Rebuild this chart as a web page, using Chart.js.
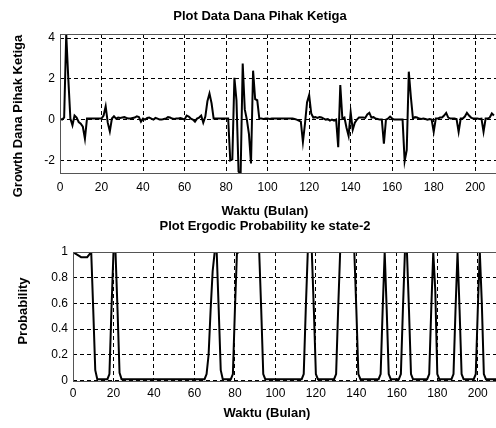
<!DOCTYPE html>
<html>
<head>
<meta charset="utf-8">
<script src="https://cdn.jsdelivr.net/npm/chart.js@4.4.0/dist/chart.umd.min.js"></script>
<style>
html,body{margin:0;padding:0;background:#fff;width:496px;height:428px;overflow:hidden;}
#wrap{position:relative;width:496px;height:428px;background:#fff;}
canvas{position:absolute;left:0;}
.t{position:absolute;font:bold 13px "Liberation Sans",Arial,sans-serif;line-height:15px;color:#000;white-space:nowrap;transform:translate(-50%,-50%);}
.r{transform:translate(-50%,-50%) rotate(-90deg);}
</style>
</head>
<body>
<div id="wrap">
<canvas id="c1" width="496" height="205" style="top:0px"></canvas>
<canvas id="c2" width="496" height="223" style="top:205px"></canvas>
<div class="t" style="left:260px;top:15px">Plot Data Dana Pihak Ketiga</div>
<div class="t r" style="left:17px;top:116px">Growth Dana Pihak Ketiga</div>
<div class="t" style="left:265px;top:210px">Waktu (Bulan)</div>
<div class="t" style="left:265px;top:225px">Plot Ergodic Probability ke state-2</div>
<div class="t r" style="left:21.5px;top:311px">Probability</div>
<div class="t" style="left:267px;top:412px">Waktu (Bulan)</div>
</div>
<script>
// ---- data ----
const monthTicks = [0, 20, 40, 60, 80, 100, 120, 140, 160, 180, 200];
const growthTicks = [-2, 0, 2, 4];
const probTicks = [0, 0.2, 0.4, 0.6, 0.8, 1];

// Growth Dana Pihak Ketiga, month 0..209
const growth = [
  0.05, 0.0, 0.1, 4.2, 2.0, 0.05, -0.28, 0.2, 0.1, -0.12,
  -0.2, -0.35, -0.94, 0.05, 0.05, 0.05, 0.05, 0.05, 0.05, 0.05,
  0.05, 0.2, 0.65, -0.15, -0.58, 0.05, 0.16, 0.05, 0.1, 0.08,
  0.1, 0.12, 0.08, 0.05, 0.05, 0.08, 0.1, 0.16, 0.12, -0.1,
  0.05, 0.0, 0.08, 0.1, 0.05, 0.0, 0.08, 0.05, 0.0, 0.0,
  0.03, 0.05, 0.12, 0.1, 0.05, 0.03, 0.05, 0.05, 0.08, 0.05,
  0.0, 0.2, 0.15, 0.05, 0.0, -0.1, 0.05, 0.1, 0.2, -0.15,
  0.15, 0.9, 1.28, 0.8, 0.05, 0.05, 0.05, 0.05, 0.05, 0.05,
  0.05, 0.05, -2.0, -1.95, 2.05, 0.95, -2.55, -2.67, 2.75, 0.5,
  0.0, -0.7, -2.15, 2.4, 1.0, 0.95, 0.05, 0.05, 0.03, 0.05,
  0.05, 0.03, 0.05, 0.05, 0.05, 0.05, 0.05, 0.05, 0.05, 0.05,
  0.05, 0.05, 0.05, 0.03, 0.0, -0.05, -0.1, -1.1, -0.2, 0.85,
  1.2, 0.3, 0.1, 0.12, 0.08, 0.12, 0.1, 0.05, 0.0, 0.02,
  -0.05, 0.0, -0.05, 0.0, -1.35, 1.69, 0.05, 0.1, -0.4, -0.8,
  0.37, -0.5, -0.15, 0.0, 0.1, 0.1, 0.1, 0.08, 0.25, 0.33,
  0.1, 0.12, 0.05, 0.03, 0.0, 0.0, -1.18, 0.0, 0.05, 0.15,
  0.05, 0.0, 0.0, 0.0, 0.0, 0.0, -2.04, -1.5, 2.35, 1.1,
  0.05, 0.12, 0.1, 0.05, 0.03, 0.05, 0.03, 0.0, 0.03, 0.0,
  -0.6, 0.05, 0.05, 0.1, 0.1, 0.2, 0.33, 0.1, 0.05, 0.05,
  0.05, 0.03, -0.6, 0.05, 0.05, 0.15, 0.33, 0.2, 0.1, 0.05,
  0.05, 0.05, 0.03, 0.05, -0.6, 0.05, 0.05, 0.1, 0.3, 0.2
];

// Ergodic probability of state 2, month 0..209
const prob = [
  1.0, 0.99, 0.98, 0.97, 0.96, 0.96, 0.96, 0.96, 0.98, 1.0,
  0.55, 0.08, 0.01, 0.01, 0.01, 0.01, 0.01, 0.01, 0.05, 0.55,
  1.0, 1.0, 0.55, 0.06, 0.01, 0.01, 0.01, 0.01, 0.01, 0.01,
  0.01, 0.01, 0.01, 0.01, 0.01, 0.01, 0.01, 0.01, 0.01, 0.01,
  0.01, 0.01, 0.01, 0.01, 0.01, 0.01, 0.01, 0.01, 0.01, 0.01,
  0.01, 0.01, 0.01, 0.01, 0.01, 0.01, 0.01, 0.01, 0.01, 0.01,
  0.01, 0.01, 0.01, 0.01, 0.01, 0.01, 0.05, 0.2, 0.55, 0.85,
  1.0, 1.0, 0.55, 0.08, 0.01, 0.01, 0.01, 0.01, 0.01, 0.05,
  0.55, 0.99, 1.0, 1.0, 1.0, 1.0, 1.0, 1.0, 1.0, 1.0,
  1.0, 1.0, 1.0, 0.55, 0.05, 0.01, 0.01, 0.01, 0.01, 0.01,
  0.01, 0.01, 0.01, 0.01, 0.01, 0.01, 0.01, 0.01, 0.01, 0.01,
  0.01, 0.01, 0.01, 0.01, 0.05, 0.55, 1.0, 1.0, 1.0, 0.55,
  0.05, 0.01, 0.01, 0.01, 0.01, 0.01, 0.01, 0.01, 0.01, 0.01,
  0.05, 0.55, 1.0, 1.0, 1.0, 1.0, 1.0, 1.0, 1.0, 1.0,
  0.55, 0.05, 0.01, 0.01, 0.01, 0.01, 0.01, 0.01, 0.01, 0.01,
  0.01, 0.01, 0.05, 0.55, 1.0, 0.55, 0.05, 0.01, 0.01, 0.01,
  0.01, 0.01, 0.05, 0.55, 1.0, 1.0, 0.55, 0.05, 0.01, 0.01,
  0.01, 0.01, 0.01, 0.01, 0.01, 0.01, 0.05, 0.55, 1.0, 0.7,
  0.05, 0.01, 0.01, 0.01, 0.01, 0.01, 0.01, 0.01, 0.05, 0.55,
  1.0, 0.55, 0.05, 0.01, 0.01, 0.01, 0.01, 0.01, 0.01, 0.05,
  0.55, 1.0, 0.6, 0.05, 0.01, 0.01, 0.01, 0.01, 0.01, 0.01
];

const months = growth.map((v, i) => i);

// ---- chart helpers ----
const tickFont = { family: '"Liberation Sans", Arial, sans-serif', size: 12 };
const frame = {
  id: 'frame',
  afterDraw(c) {
    const a = c.chartArea, ctx = c.ctx;
    ctx.save();
    ctx.strokeStyle = '#555';
    ctx.lineWidth = 1;
    ctx.strokeRect(Math.round(a.left) + 0.5, Math.round(a.top) + 0.5,
                   Math.round(a.right - a.left), Math.round(a.bottom - a.top) - 1);
    ctx.restore();
  }
};

function gridOpts() {
  return { display: true, color: '#000', lineWidth: 1, drawTicks: false };
}
function borderOpts() {
  return { display: false, dash: [4, 3] };
}

function makeChart(id, values, yMin, yMax, yTicks, xMax, padTop, yWidth, xHeight, xPad) {
  return new Chart(document.getElementById(id), {
    type: 'line',
    data: {
      datasets: [{
        data: months.map((m, i) => ({ x: m, y: values[i] })),
        borderColor: '#000',
        borderWidth: 2,
        pointRadius: 0,
        tension: 0,
        fill: false
      }]
    },
    options: {
      responsive: false,
      animation: false,
      devicePixelRatio: 1,
      layout: { padding: { top: padTop, left: 0, right: 0, bottom: 0 } },
      plugins: { legend: { display: false }, tooltip: { enabled: false }, title: { display: false } },
      scales: {
        x: {
          type: 'linear', min: 0, max: xMax,
          afterBuildTicks: s => { s.ticks = monthTicks.map(v => ({ value: v })); },
          afterFit: s => { s.height = xHeight; },
          grid: gridOpts(), border: borderOpts(),
          ticks: { font: tickFont, color: '#000', padding: xPad, maxRotation: 0, autoSkip: false, callback: v => String(v) }
        },
        y: {
          type: 'linear', min: yMin, max: yMax,
          afterBuildTicks: s => { s.ticks = yTicks.map(v => ({ value: v })); },
          afterFit: s => { s.width = yWidth; },
          grid: gridOpts(), border: borderOpts(),
          ticks: { font: tickFont, color: '#000', padding: 5, autoSkip: false, callback: v => String(v) }
        }
      }
    },
    plugins: [frame]
  });
}

makeChart('c1', growth, -2.67, 4.2, growthTicks, 210, 34, 60, 31, 6);
makeChart('c2', prob, -0.012, 1, probTicks, 209, 47, 73, 46, 4);
</script>
</body>
</html>
